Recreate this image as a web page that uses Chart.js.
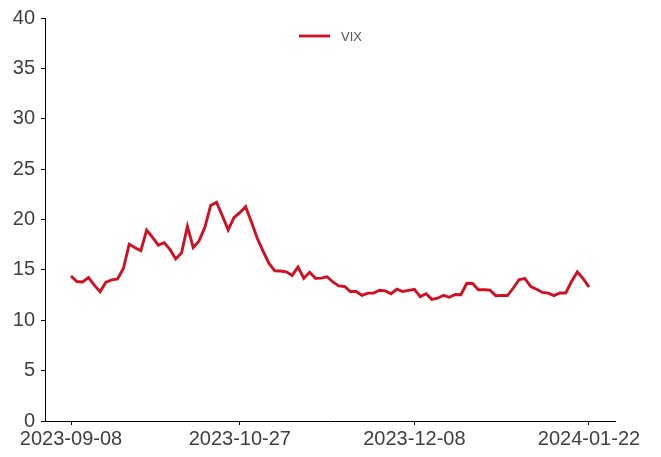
<!DOCTYPE html>
<html>
<head>
<meta charset="utf-8">
<script src="https://cdn.jsdelivr.net/npm/chart.js@4/dist/chart.umd.min.js"></script>
<style>
  html, body { margin: 0; padding: 0; background: #fff; }
  #wrap { width: 661px; height: 457px; position: relative; }
</style>
</head>
<body>
<div id="wrap"><canvas id="vixChart"></canvas></div>
<script>
// Trading dates (x categories)
const dates = [
  "2023-09-08", "2023-09-11", "2023-09-12", "2023-09-13", "2023-09-14", "2023-09-15",
  "2023-09-18", "2023-09-19", "2023-09-20", "2023-09-21", "2023-09-22",
  "2023-09-25", "2023-09-26", "2023-09-27", "2023-09-28",
  "2023-10-09", "2023-10-10", "2023-10-11", "2023-10-12", "2023-10-13",
  "2023-10-16", "2023-10-17", "2023-10-18", "2023-10-19", "2023-10-20",
  "2023-10-23", "2023-10-24", "2023-10-25", "2023-10-26", "2023-10-27",
  "2023-10-30", "2023-10-31", "2023-11-01", "2023-11-02", "2023-11-03",
  "2023-11-06", "2023-11-07", "2023-11-08", "2023-11-09", "2023-11-10",
  "2023-11-13", "2023-11-14", "2023-11-15", "2023-11-16", "2023-11-17",
  "2023-11-20", "2023-11-21", "2023-11-22", "2023-11-23", "2023-11-24",
  "2023-11-27", "2023-11-28", "2023-11-29", "2023-11-30", "2023-12-01",
  "2023-12-04", "2023-12-05", "2023-12-06", "2023-12-07", "2023-12-08",
  "2023-12-11", "2023-12-12", "2023-12-13", "2023-12-14", "2023-12-15",
  "2023-12-18", "2023-12-19", "2023-12-20", "2023-12-21", "2023-12-22",
  "2023-12-25", "2023-12-26", "2023-12-27", "2023-12-28", "2023-12-29",
  "2024-01-02", "2024-01-03", "2024-01-04", "2024-01-05",
  "2024-01-08", "2024-01-09", "2024-01-10", "2024-01-11", "2024-01-12",
  "2024-01-15", "2024-01-16", "2024-01-17", "2024-01-18", "2024-01-19",
  "2024-01-22"
];

// VIX values, one per date
const vix = [
  14.40, 13.84, 13.80, 14.23, 13.48, 12.82,
  13.79, 14.00, 14.11, 15.14, 17.54,
  17.20, 16.90, 18.94, 18.22,
  17.45, 17.70, 17.03, 16.09, 16.69,
  19.32, 17.21, 17.88, 19.22, 21.40,
  21.71, 20.37, 18.97, 20.19, 20.68,
  21.27, 19.75, 18.14, 16.87, 15.66,
  14.91, 14.89, 14.81, 14.45, 15.29,
  14.17, 14.76, 14.16, 14.18, 14.32,
  13.80, 13.41, 13.35, 12.85, 12.85,
  12.46, 12.69, 12.69, 12.98, 12.92,
  12.63, 13.08, 12.85, 12.97, 13.06,
  12.35, 12.63, 12.07, 12.19, 12.48,
  12.28, 12.56, 12.53, 13.67, 13.65,
  13.03, 13.03, 12.99, 12.43, 12.47,
  12.45, 13.20, 14.04, 14.13,
  13.35, 13.08, 12.76, 12.69, 12.44,
  12.70, 12.70, 13.84, 14.79, 14.13,
  13.30
];

// Which dates get an x tick label
const xTickDates = ["2023-09-08", "2023-10-27", "2023-12-08", "2024-01-22"];
const yTicks = [0, 5, 10, 15, 20, 25, 30, 35, 40];

const seriesName = "VIX";
const lineColor = "#d00f22";
const fontFamily = "'Liberation Sans', Arial, sans-serif";

// legend drawn inside the plot area, near the top centre
const innerLegend = {
  id: "innerLegend",
  afterDraw(chart) {
    const ctx = chart.ctx;
    const x0 = 299, y0 = 36;
    ctx.save();
    ctx.strokeStyle = lineColor;
    ctx.lineWidth = 2.8;
    ctx.beginPath();
    ctx.moveTo(x0, y0);
    ctx.lineTo(x0 + 31, y0);
    ctx.stroke();
    ctx.fillStyle = "#555";
    ctx.font = "13px " + fontFamily;
    ctx.textBaseline = "middle";
    ctx.fillText(seriesName, x0 + 42, y0 + 1);
    ctx.restore();
  }
};

const points = vix.map((v, i) => ({ x: i, y: v }));

new Chart(document.getElementById("vixChart"), {
  type: "line",
  data: {
    datasets: [{
      label: seriesName,
      data: points,
      borderColor: lineColor,
      borderWidth: 2.9,
      pointRadius: 0,
      tension: 0,
      fill: false
    }]
  },
  options: {
    responsive: true,
    maintainAspectRatio: false,
    animation: false,
    layout: { padding: { top: 18, right: 46, left: 0, bottom: 0 } },
    plugins: {
      legend: { display: false },
      tooltip: { enabled: false }
    },
    scales: {
      x: {
        type: "linear",
        min: -4.47,
        max: 93.47,
        afterBuildTicks: scale => {
          scale.ticks = xTickDates.map(d => ({ value: dates.indexOf(d) }));
        },
        afterFit: scale => { scale.height = 36; },
        border: { color: "#000", width: 1 },
        grid: { drawOnChartArea: false, drawTicks: true, tickLength: 4, color: "#000" },
        ticks: {
          autoSkip: false,
          maxRotation: 0,
          padding: 2,
          color: "#404040",
          font: { family: fontFamily, size: 20 },
          callback: v => dates[v]
        }
      },
      y: {
        min: 0,
        max: 40,
        afterBuildTicks: scale => {
          scale.ticks = yTicks.map(v => ({ value: v }));
        },
        afterFit: scale => { scale.width = 45; },
        border: { color: "#000", width: 1 },
        grid: { drawOnChartArea: false, drawTicks: true, tickLength: 4, color: "#000" },
        ticks: {
          padding: 6,
          color: "#404040",
          font: { family: fontFamily, size: 20 }
        }
      }
    }
  },
  plugins: [innerLegend]
});
</script>
</body>
</html>
